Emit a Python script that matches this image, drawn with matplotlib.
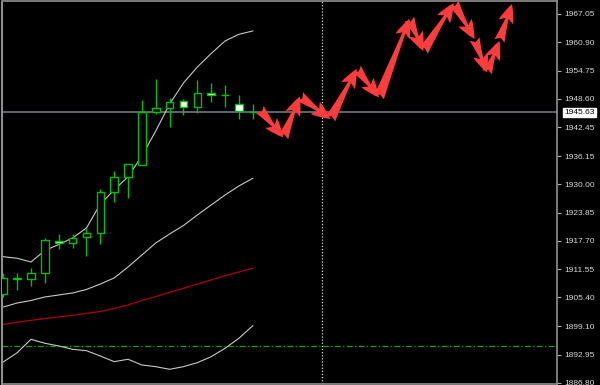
#!/usr/bin/env python

import matplotlib as mpl
mpl.use('Agg')
import matplotlib.pyplot as plt
import numpy as np


# candles (oldest first)
opens  = [1906.15, 1909.50, 1909.41, 1910.65, 1917.78, 1917.24, 1918.48, 1919.35, 1928.40, 1931.66,
          1934.20, 1945.67, 1946.67, 1948.02, 1946.88, 1949.80, 1949.49, 1947.36, 1945.80]
highs  = [1910.61, 1910.61, 1911.80, 1918.33, 1919.09, 1919.09, 1920.57, 1928.92, 1932.96, 1934.42,
          1948.34, 1952.91, 1948.78, 1948.52, 1952.69, 1952.10, 1951.60, 1949.32, 1947.47]
lows   = [1905.50, 1907.02, 1907.78, 1908.54, 1915.83, 1916.15, 1914.41, 1916.96, 1926.09, 1926.96,
          1934.10, 1945.30, 1942.53, 1945.08, 1945.45, 1947.97, 1946.82, 1944.14, 1944.14]
closes = [1909.52, 1909.60, 1910.82, 1917.89, 1917.18, 1918.33, 1919.48, 1928.40, 1931.66, 1934.36,
          1945.80, 1946.67, 1947.84, 1946.88, 1949.86, 1949.38, 1949.43, 1945.95, 1945.63]

# indicator lines
upper_line = [1914.26, 1913.91, 1913.11, 1915.61, 1916.91, 1918.33, 1920.50, 1925.72, 1928.77, 1931.66,
              1936.16, 1941.60, 1947.47, 1952.04, 1955.52, 1958.45, 1961.17, 1962.63, 1963.35]
middle_line = [1903.32, 1904.19, 1904.73, 1905.50, 1905.93, 1906.37, 1907.13, 1908.32, 1909.63, 1912.02,
               1914.63, 1917.24, 1919.20, 1921.05, 1923.33, 1925.51, 1927.68, 1929.64, 1931.31]
red_ma = [1899.52, 1899.99, 1900.43, 1900.82, 1901.15, 1901.52, 1901.95, 1902.34, 1903.00, 1903.76,
          1904.73, 1905.60, 1906.52, 1907.39, 1908.32, 1909.19, 1910.13, 1910.93, 1911.74]
lower_line = [1891.36, 1893.38, 1896.30, 1895.43, 1894.84, 1894.12, 1893.82, 1892.66, 1891.43, 1891.95,
              1890.71, 1890.34, 1889.77, 1890.34, 1891.21, 1892.51, 1894.34, 1896.51, 1899.25]

# forecast arrows path (bar index, price)
fc_x = [18.5, 20.2, 21.4, 23.6, 25.5, 27.1, 29.3, 30.3, 32.5, 34.0, 34.9, 35.8, 36.7]
fc_y = [1946.3, 1940.2, 1949.1, 1944.2, 1955.1, 1948.9, 1966.0, 1959.0, 1969.4, 1961.6, 1954.3, 1961.2, 1969.2]

bid = 1945.63
level = 1894.84
vline_bar = 23

yticks = [1967.05, 1960.90, 1954.75, 1948.60, 1942.45, 1936.15, 1930.00, 1923.85,
          1917.70, 1911.55, 1905.40, 1899.10, 1892.95, 1886.80]

green = '#00c000'
silver = '#c8c8c8'

fig = plt.figure(figsize=(6, 3.85), dpi=100, facecolor='black')
ax = fig.add_axes([2 / 600, 1 / 385, 555 / 600, 383 / 385], facecolor='black')

idx = np.arange(len(opens))
o = np.array(opens)
c = np.array(closes)

# wicks and bodies
ax.vlines(idx, lows, highs, color=green, lw=1.0, zorder=3)
bottoms = np.minimum(o, c)
heights = np.abs(c - o)
faces = ['white' if cc < oo else 'black' for oo, cc in zip(o, c)]
ax.bar(idx, heights, bottom=bottoms, width=0.55, color=faces, edgecolor=green, lw=1.0, zorder=4)

ax.plot(idx, upper_line, color=silver, lw=0.8, zorder=2)
ax.plot(idx, middle_line, color=silver, lw=0.8, zorder=2)
ax.plot(idx, lower_line, color=silver, lw=0.8, zorder=2)
ax.plot(idx, red_ma, color='#b00000', lw=0.9, zorder=2)

ax.axhline(bid, color='#6c7885', lw=1.2, zorder=1)
ax.axhline(level, color='#00b000', lw=0.9, ls=(0, (4.5, 2, 1, 2)), zorder=1)
ax.axvline(vline_bar, color='#d8d8d8', lw=0.9, ls=(0, (1, 1.5)), zorder=1)

for i in range(len(fc_x) - 1):
    ax.annotate('', xy=(fc_x[i + 1], fc_y[i + 1]), xytext=(fc_x[i], fc_y[i]),
                arrowprops=dict(arrowstyle='fancy,head_length=0.8,head_width=0.65,tail_width=0.45',
                                color='#ff3c3c', lw=0, shrinkA=0, shrinkB=0, mutation_scale=17),
                zorder=5)

ax.set_xlim(-0.094, 39.95)
ax.set_ylim(1886.57, 1969.87)

ax.yaxis.tick_right()
ax.set_yticks(yticks)
ax.set_yticklabels(['{:.2f}'.format(v) for v in yticks])
ax.tick_params(axis='y', colors='#b0b0b0', length=3, width=0.8, pad=2,
               labelcolor='#d8d8d8', labelsize=6)
ax.set_xticks([])
for lab in ax.get_yticklabels():
    lab.set_fontfamily('Liberation Sans')

for s in ['top', 'bottom', 'right']:
    ax.spines[s].set_color('#909090')
    ax.spines[s].set_linewidth(1.2)
ax.spines['left'].set_color('#909090')
ax.spines['left'].set_linestyle((0, (1, 1)))
ax.spines['left'].set_linewidth(1.5)

ax.annotate('{:.2f}'.format(bid), xy=(1.0, bid), xycoords=('axes fraction', 'data'),
            xytext=(5, 0), textcoords='offset points', ha='left', va='center',
            fontsize=6, family='Liberation Sans', color='black',
            bbox=dict(boxstyle='square,pad=0.15', fc='white', ec='white'), annotation_clip=False)

fig.savefig('out.png', dpi=100, facecolor='black')
